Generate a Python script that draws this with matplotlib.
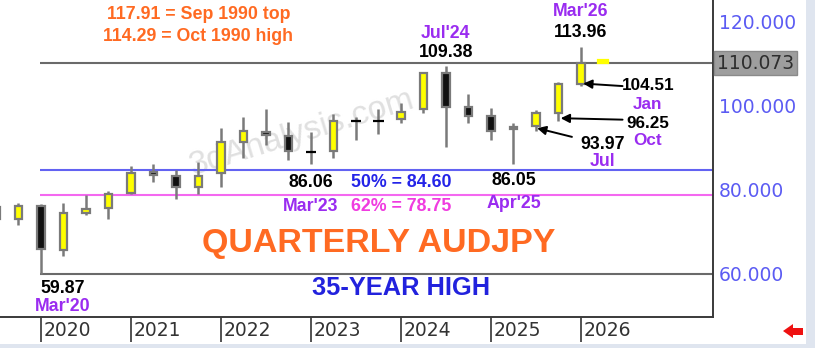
import matplotlib
matplotlib.use('Agg')
import matplotlib.pyplot as plt
from matplotlib.patches import Polygon, Rectangle
from matplotlib.transforms import blended_transform_factory

plt.rcParams['font.family'] = ['Liberation Sans', 'DejaVu Sans']

# quarterly AUDJPY candles, 2019 Q3 .. 2026 Q2
quarters = ['2019Q3', '2019Q4',
            '2020Q1', '2020Q2', '2020Q3', '2020Q4',
            '2021Q1', '2021Q2', '2021Q3', '2021Q4',
            '2022Q1', '2022Q2', '2022Q3', '2022Q4',
            '2023Q1', '2023Q2', '2023Q3', '2023Q4',
            '2024Q1', '2024Q2', '2024Q3', '2024Q4',
            '2025Q1', '2025Q2', '2025Q3', '2025Q4',
            '2026Q1', '2026Q2']
opens = [75.9, 72.9, 76.0, 65.6, 74.4, 75.6, 79.2, 84.1, 83.2, 80.6,
         83.8, 91.3, 93.7, 92.7, 89.0, 89.2, 96.3, 96.3, 96.7, 99.05,
         107.6, 99.5, 97.5, 94.3, 95.1, 98.1, 105.2, 110.2]
highs = [76.4, 76.7, 76.5, 76.7, 78.6, 79.7, 85.6, 86.0, 84.6, 86.4,
         94.5, 97.3, 99.05, 96.1, 93.7, 97.9, 97.3, 99.05, 100.5, 108.0,
         109.38, 102.7, 99.3, 95.9, 98.9, 105.6, 113.96, 110.8]
lows = [70.0, 71.5, 59.87, 64.1, 74.0, 72.9, 78.9, 81.8, 77.7, 78.9,
        80.6, 87.4, 90.55, 87.0, 86.06, 87.4, 91.7, 93.3, 95.7, 98.1,
        90.15, 95.7, 91.7, 86.05, 93.97, 96.25, 104.51, 110.2]
closes = [72.9, 76.0, 65.8, 74.4, 75.4, 78.9, 84.0, 83.4, 80.6, 83.2,
          91.3, 94.0, 93.0, 89.2, 89.0, 96.3, 96.3, 96.3, 98.5, 107.6,
          99.7, 97.5, 94.0, 94.8, 98.2, 105.2, 110.07, 110.8]

years = [2020, 2021, 2022, 2023, 2024, 2025, 2026]
y_ticks = [60, 80, 100, 120]
last_price = 110.073
fib_50 = 84.60
fib_62 = 78.75
low_2020 = 59.87

ORANGE = '#ff6a22'
PURPLE = '#9a2cf0'
BLUE = '#2424e8'
PINK = '#f03ce0'
GREY = '#7a7a7a'

fig = plt.figure(figsize=(8.15, 3.48), dpi=100)
ax = fig.add_axes([0, 31 / 348, 713 / 815, 317 / 348])

# x position of each quarter: 2020 Q1 = 0
xs = [4 * (int(q[:4]) - 2020) + int(q[-1]) - 1 for q in quarters]

for x, o, h, l, c in zip(xs, opens, highs, lows, closes):
    live = (x == xs[-1])
    if not live:
        ax.vlines(x, l, h, color=GREY, lw=1.8, zorder=2)
    if o == c:
        ax.hlines(o, x - 0.24, x + 0.24, color='black', lw=1.6, zorder=3)
        continue
    col = '#ffff00' if c > o else '#111111'
    ax.bar(x, c - o, bottom=o, width=0.33 if not live else 0.45,
           color=col, edgecolor=GREY if not live else col,
           linewidth=1.6, zorder=3)

right = 29.87
ax.hlines(last_price, -0.05, right, color='#6a6a6a', lw=1.5, zorder=1)
ax.hlines(fib_50, -0.05, right, color='#6262f2', lw=1.5, zorder=1)
ax.hlines(fib_62, -0.05, right, color='#f468f0', lw=1.5, zorder=1)
ax.hlines(low_2020, -0.05, right, color='#6a6a6a', lw=1.5, zorder=1)

ax.set_xlim(-1.82, right)
ax.set_ylim(49.6, 125.1)

# watermark
ax.text(11.6, 93.4, '3dAnalysis.com', fontsize=24, color='#e0e0e0',
        rotation=17, ha='center', va='center', zorder=0)

# annotations
kw = dict(fontsize=12.8, fontweight='bold', ha='center', va='center')
ax.text(7, 121.7, '117.91 = Sep 1990 top', color=ORANGE, **kw)
ax.text(7, 116.5, '114.29 = Oct 1990 high', color=ORANGE, **kw)

i26 = xs[quarters.index('2026Q1')]
ax.text(i26, highs[quarters.index('2026Q1')] + 8.3, "Mar'26", color=PURPLE, **kw)
ax.text(i26, highs[quarters.index('2026Q1')] + 3.3, '113.96', color='black', **kw)
i24 = xs[quarters.index('2024Q3')]
ax.text(i24, highs[quarters.index('2024Q3')] + 7.8, "Jul'24", color=PURPLE, **kw)
ax.text(i24, highs[quarters.index('2024Q3')] + 3.3, '109.38', color='black', **kw)

i23 = xs[quarters.index('2023Q1')]
ax.text(i23, 81.7, '86.06', color='black', **kw)
ax.text(i23, 75.8, "Mar'23", color=PURPLE, **kw)
i25 = xs[quarters.index('2025Q2')]
ax.text(i25, 82.2, '86.05', color='black', **kw)
ax.text(i25, 76.7, "Apr'25", color=PURPLE, **kw)

ax.text(16, 81.7, '50%% = %.2f' % fib_50, color=BLUE, **kw)
ax.text(16, 75.8, '62%% = %.2f' % fib_62, color=PINK, **kw)

ax.text(0.98, 56.3, '59.87', color='black', **kw)
ax.text(0.98, 52.0, "Mar'20", color=PURPLE, **kw)

ax.text(15, 67.2, 'QUARTERLY AUDJPY', color=ORANGE, fontsize=24.5,
        fontweight='bold', ha='center', va='center')
ax.text(16, 56.5, '35-YEAR HIGH', color='#2222dd', fontsize=18.3,
        fontweight='bold', ha='center', va='center')

kw2 = dict(kw, fontsize=12.3)
ax.text(26.98, 104.8, '104.51', color='black', **kw2)
ax.text(26.98, 100.3, 'Jan', color=PURPLE, **kw2)
ax.text(26.98, 95.8, '96.25', color='black', **kw2)
ax.text(26.98, 91.7, 'Oct', color=PURPLE, **kw2)
ax.text(24.98, 90.8, '93.97', color='black', **kw)
ax.text(24.98, 86.6, 'Jul', color=PURPLE, **kw)

arrow = dict(arrowstyle='-|>', color='black', lw=1.4, mutation_scale=13,
             shrinkA=0, shrinkB=0)
ax.annotate('', xy=(i26 + 0.1, opens[quarters.index('2026Q1')]),
            xytext=(25.85, 104.6), arrowprops=arrow)
ax.annotate('', xy=(i26 - 0.9, lows[quarters.index('2025Q4')] + 0.7),
            xytext=(25.85, 96.6), arrowprops=arrow)
ax.annotate('', xy=(i26 - 1.95, lows[quarters.index('2025Q3')] + 0.6),
            xytext=(23.6, 92.5), arrowprops=arrow)

# axes frame
for s in ['top', 'left']:
    ax.spines[s].set_visible(False)
for s in ['right', 'bottom']:
    ax.spines[s].set_color('#3a3a3a')
    ax.spines[s].set_linewidth(1.4)

ax.yaxis.tick_right()
ax.set_yticks(y_ticks, ['%.3f' % v for v in y_ticks])
ax.tick_params(axis='y', length=0, pad=4, labelsize=13.5, labelcolor='#5b5bf3')
for lab in ax.get_yticklabels():
    lab.set_family('DejaVu Sans')

ax.text(1.006, last_price, '%.3f' % last_price,
        transform=blended_transform_factory(ax.transAxes, ax.transData),
        ha='left', va='center', fontsize=13.5, color='#2e2e2e',
        family='DejaVu Sans',
        bbox=dict(facecolor='#9e9e9e', edgecolor='#8a8a8a', pad=2),
        clip_on=False)

year_pos = [4 * (y - 2020) for y in years]
ax.set_xticks(year_pos, [''] * len(years))
ax.tick_params(axis='x', length=18, width=1.3, color='#444444')
tr = blended_transform_factory(ax.transData, ax.transAxes)
for p, y in zip(year_pos, years):
    ax.text(p + 0.13, -0.043, str(y), transform=tr, ha='left', va='center',
            fontsize=13.5, color='#333333', family='DejaVu Sans')

# window edges and the small red arrow
W, H = 815, 348
fig.add_artist(Rectangle((806 / W, 0), 9 / W, 1, transform=fig.transFigure,
                         facecolor='#dfe5ef', edgecolor='none'))
fig.add_artist(Rectangle((0, 0), 1, 4 / H, transform=fig.transFigure,
                         facecolor='#dfe5ef', edgecolor='none'))
pts = [(783, 331), (793, 324), (793, 328), (803, 328), (803, 335),
       (793, 335), (793, 338)]
fig.add_artist(Polygon([(x / W, 1 - y / H) for x, y in pts],
                       transform=fig.transFigure, facecolor='#ee1111',
                       edgecolor='none'))

fig.savefig('out.png', dpi=100)
